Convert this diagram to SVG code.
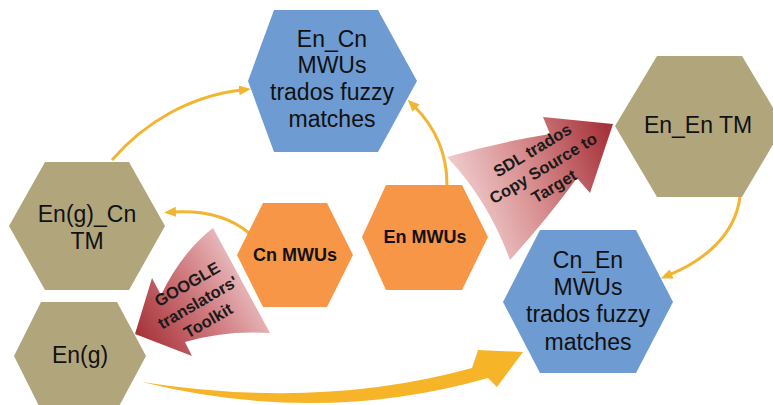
<svg xmlns="http://www.w3.org/2000/svg" width="773" height="405" viewBox="0 0 773 405">
  <style>
    .blue { fill: #6E9BD2; }
    .olive { fill: #B1A67B; }
    .orange { fill: #F79646; }
    .lbl { font-family: "Liberation Sans", Arial, sans-serif; font-size: 23px; fill: #111; text-anchor: middle; }
    .bold { font-weight: bold; font-size: 18px; }
    .arrtxt { font-family: "Liberation Sans", Arial, sans-serif; font-size: 16.5px; font-weight: bold; fill: #1a1a1a; text-anchor: middle; }
    .link { fill: none; stroke: #F2B532; stroke-width: 3; }
  </style>
  <defs>
    <marker id="head" viewBox="0 0 12 10" refX="3" refY="5" markerUnits="userSpaceOnUse" markerWidth="12" markerHeight="10" orient="auto">
      <path d="M0,0 L12,5 L0,10 z" fill="#F2B532"/>
    </marker>
    <linearGradient id="sdlGrad" gradientUnits="userSpaceOnUse" x1="450" y1="200" x2="612" y2="140">
      <stop offset="0" stop-color="#F3D6D6"/>
      <stop offset="0.5" stop-color="#D68A8C"/>
      <stop offset="1" stop-color="#A6323A"/>
    </linearGradient>
    <linearGradient id="ggGrad" gradientUnits="userSpaceOnUse" x1="140" y1="340" x2="265" y2="265">
      <stop offset="0" stop-color="#A6323A"/>
      <stop offset="0.5" stop-color="#D07C80"/>
      <stop offset="1" stop-color="#F3D6D8"/>
    </linearGradient>
  </defs>

  <!-- connectors -->
  <g id="connectors">
    <path class="link" d="M112,160 C145,122 190,96 242,90" marker-end="url(#head)"/>
    <path class="link" d="M447,185 C447,150 433,125 414,106" marker-end="url(#head)"/>
    <path class="link" d="M249,233 C230,217 205,210 173,212" marker-end="url(#head)"/>
    <path class="link" d="M740,197 C735,235 705,260 669,275" marker-end="url(#head)"/>
    <!-- wide curved arrow En(g) to Cn_En -->
    <path d="M142,382 Q320,410 472,368 L478,350 L523,352 L497,387 L488,378 Q320,426 142,382 Z" fill="#F6B428"/>
    <!-- SDL trados block arrow -->
    <path d="M447,157 Q500,142 550,134 L543,117 L613,124 L590,193 L577,178 Q548,218 510,260 Q488,200 447,157 Z" fill="url(#sdlGrad)"/>
    <g transform="translate(543,168) rotate(-31)">
      <text class="arrtxt" x="0" y="-15">SDL trados</text>
      <text class="arrtxt" x="0" y="6">Copy Source to</text>
      <text class="arrtxt" x="0" y="27">Target</text>
    </g>
    <!-- GOOGLE block arrow -->
    <path d="M213,228 L270,333 Q225,330 185,342 L192,356 L135,334 L152,278 L161,295 Q182,252 213,228 Z" fill="url(#ggGrad)"/>
    <g transform="translate(198,303) rotate(-30)">
      <text class="arrtxt" x="0" y="-16">GOOGLE</text>
      <text class="arrtxt" x="0" y="5">translators'</text>
      <text class="arrtxt" x="0" y="26">Toolkit</text>
    </g>
  </g>

  <g id="en-cn-fuzzy">
    <polygon class="blue" points="248,81 274,10 378,10 417,81 378,152 274,152"/>
    <text class="lbl" x="332" y="47">En_Cn</text>
    <text class="lbl" x="332" y="73">MWUs</text>
    <text class="lbl" x="332" y="100">trados fuzzy</text>
    <text class="lbl" x="332" y="127">matches</text>
  </g>

  <g id="en-en-tm">
    <polygon class="olive" points="615,126 657,56 742,56 784,126 742,197 657,197"/>
    <text class="lbl" x="698" y="133">En_En TM</text>
  </g>

  <g id="eng-cn-tm">
    <polygon class="olive" points="9,226 45,162 129,162 165,226 129,290 45,290"/>
    <text class="lbl" x="87" y="222">En(g)_Cn</text>
    <text class="lbl" x="87" y="249">TM</text>
  </g>

  <g id="eng">
    <polygon class="olive" points="14,356 41,302 117,302 146,356 117,410 41,410"/>
    <text class="lbl" x="80" y="363">En(g)</text>
  </g>

  <g id="cn-mwus">
    <polygon class="orange" points="237,255 263,203 327,203 353,255 327,307 263,307"/>
    <text class="lbl bold" x="295" y="261">Cn MWUs</text>
  </g>

  <g id="en-mwus">
    <polygon class="orange" points="362,237 386,185 462,185 488,237 462,290 386,290"/>
    <text class="lbl bold" x="425" y="243">En MWUs</text>
  </g>

  <g id="cn-en-fuzzy">
    <polygon class="blue" points="503,302 540,230 636,230 673,302 636,373 540,373"/>
    <text class="lbl" x="588" y="268">Cn_En</text>
    <text class="lbl" x="588" y="295">MWUs</text>
    <text class="lbl" x="588" y="322">trados fuzzy</text>
    <text class="lbl" x="588" y="350">matches</text>
  </g>
</svg>
